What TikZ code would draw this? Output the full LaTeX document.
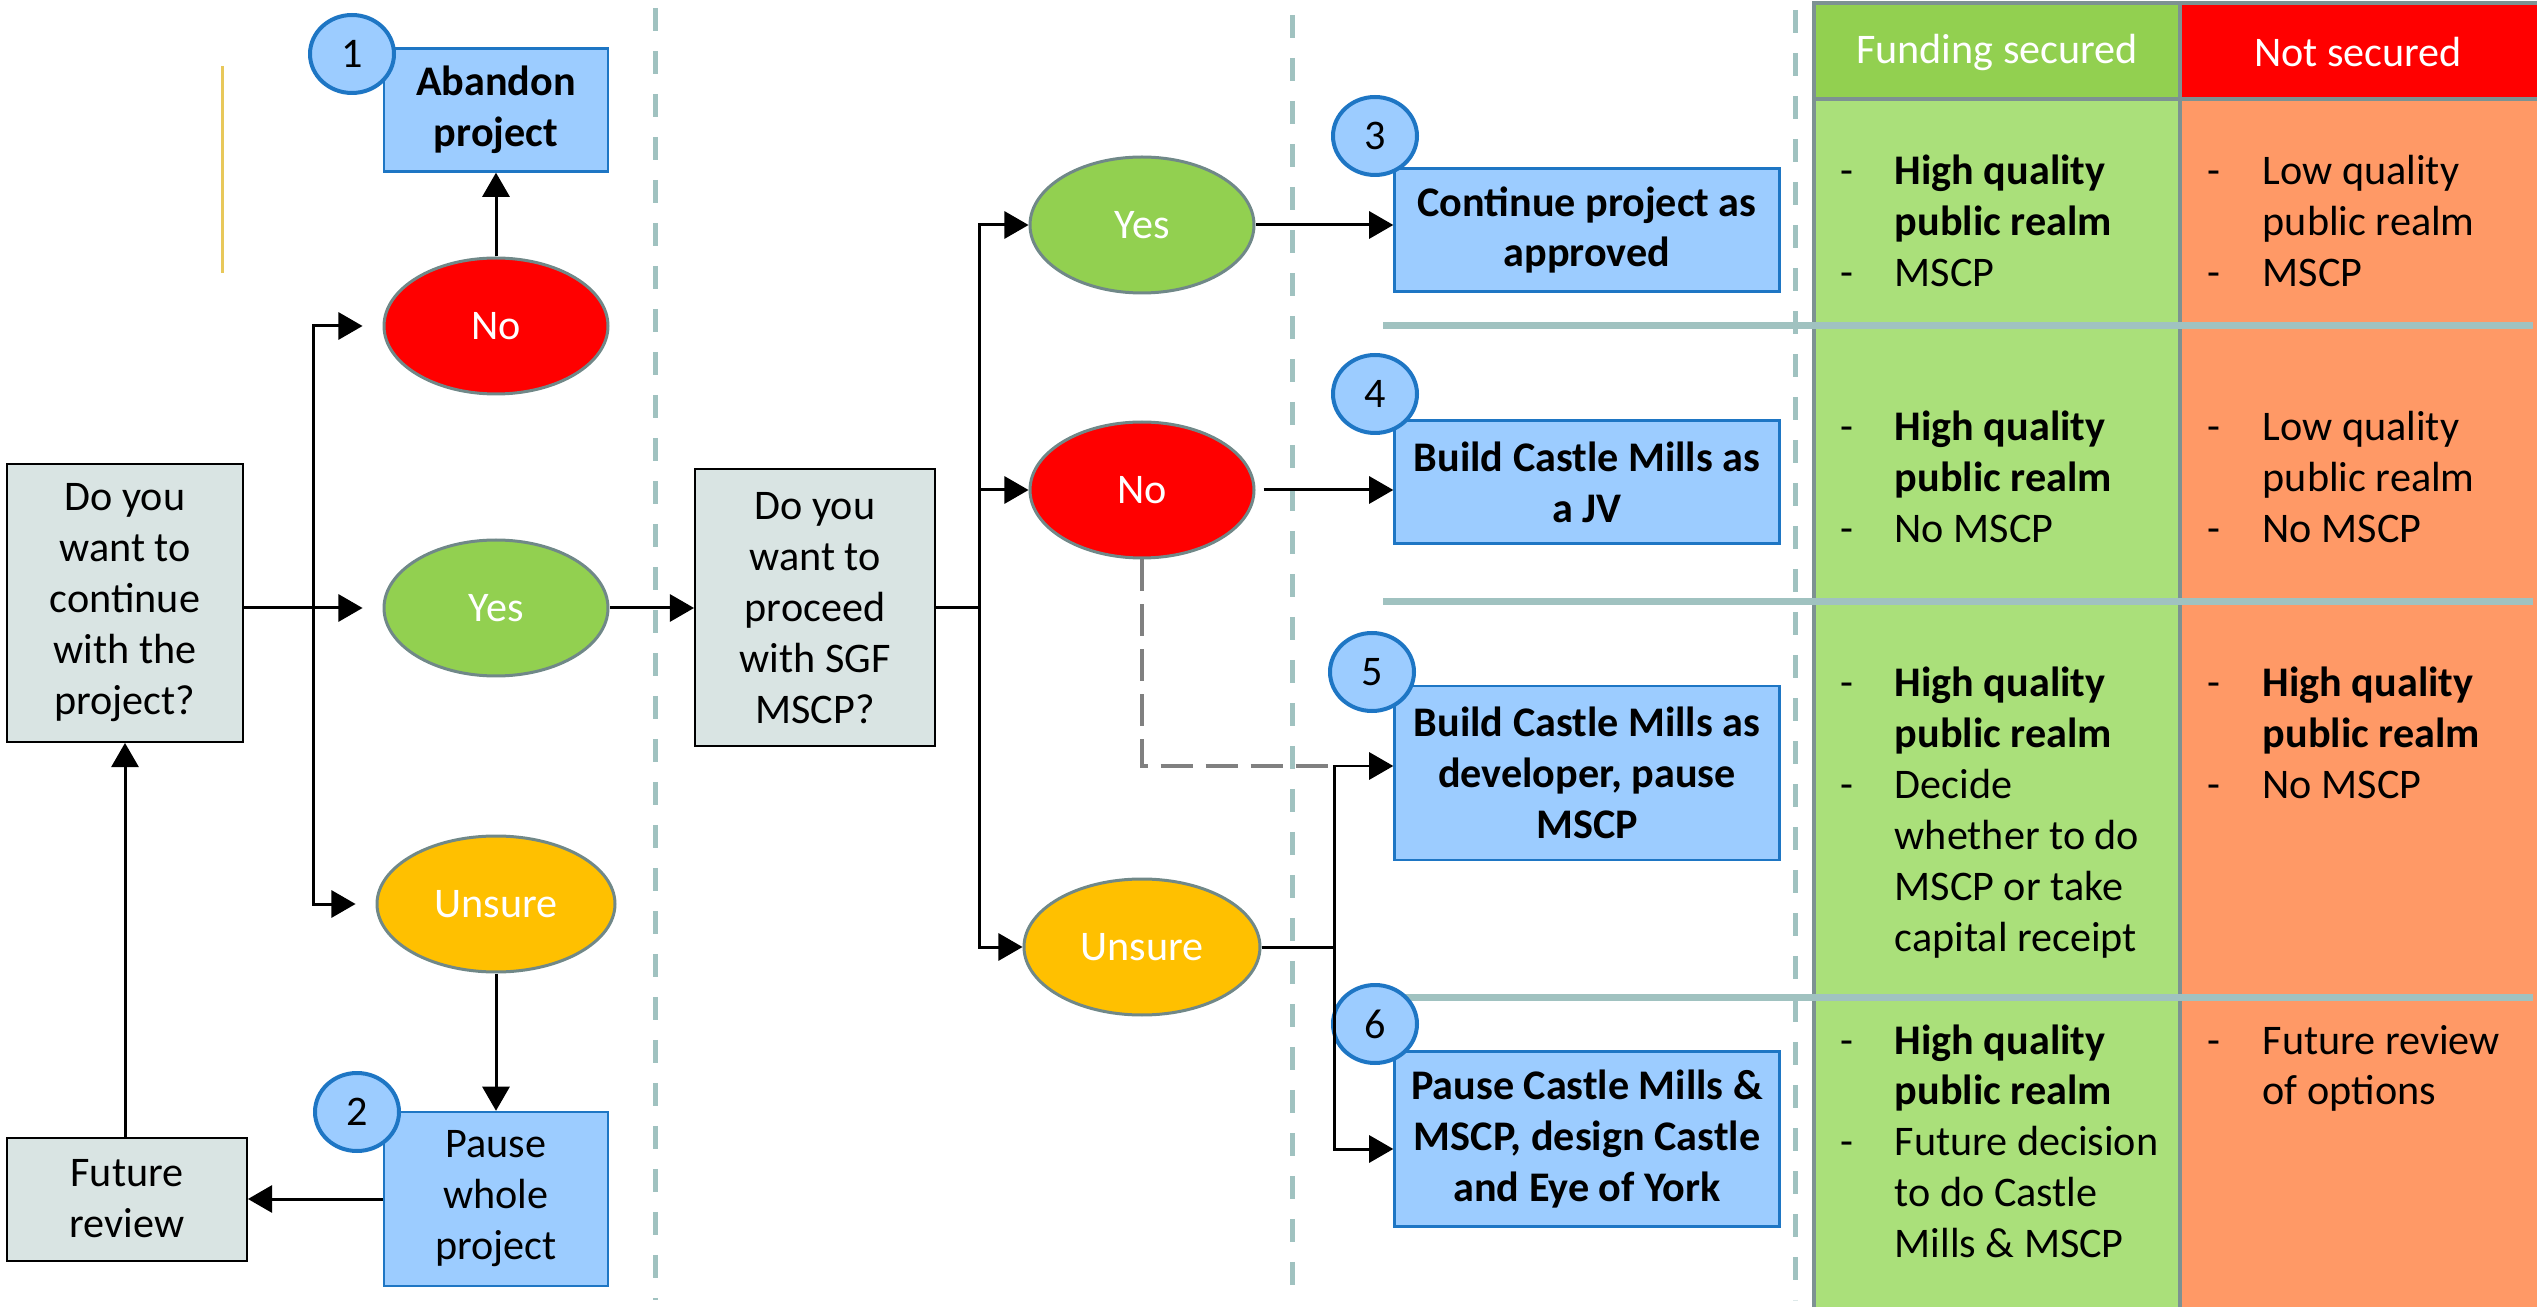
\documentclass[tikz,border=0pt]{standalone}
\usepackage{fontspec}
\setmainfont{Carlito}
\usetikzlibrary{arrows, calc, shapes.geometric}

\definecolor{qgrey}{RGB}{217,228,227}
\definecolor{optblue}{RGB}{156,204,255}
\definecolor{optedge}{RGB}{30,118,196}
\definecolor{ovedge}{RGB}{112,136,136}
\definecolor{yesgreen}{RGB}{146,208,80}
\definecolor{nored}{RGB}{255,0,0}
\definecolor{unsorange}{RGB}{255,192,0}
\definecolor{divline}{RGB}{160,194,192}
\definecolor{cellgreen}{RGB}{170,224,122}
\definecolor{cellorange}{RGB}{255,153,102}
\definecolor{gridgrey}{RGB}{125,146,146}
\definecolor{markyellow}{RGB}{232,200,90}

\begin{document}
\begin{tikzpicture}[x=0.1mm, y=-0.1mm,
	font=\fontsize{12}{14.5}\selectfont,
	question/.style={draw, line width=0.2mm, fill=qgrey, align=center, inner sep=0pt},
	option/.style={draw=optedge, line width=0.25mm, fill=optblue, align=center, inner sep=0pt,
		minimum width=38.5mm, font=\fontsize{12}{14.5}\selectfont\bfseries},
	numbered/.style={ellipse, draw=optedge, line width=0.4mm, fill=optblue, inner sep=0pt,
		minimum width=8.4mm, minimum height=7.8mm},
	answer/.style={ellipse, draw=ovedge, line width=0.3mm, text=white, inner sep=0pt,
		minimum width=22.4mm, minimum height=13.6mm},
	arrow/.style={-triangle 60, line width=0.3mm},
	link/.style={line width=0.3mm},
	linkdash/.style={draw=gray, line width=0.4mm, dash pattern=on 3.2mm off 1.3mm},
	divider/.style={divline, line width=0.5mm, dash pattern=on 2.3mm off 2mm},
	separator/.style={divline, line width=0.7mm},
	cell/.style={anchor=base west, inner sep=0pt}]
	\useasboundingbox (0,0) rectangle (2537,1307);

	% outcome table
	\fill [cellgreen] (1814,99) rectangle (2180,1307);
	\fill [cellorange] (2180,99) rectangle (2537,1307);
	\fill [yesgreen] (1814,3) rectangle (2180,99);
	\fill [nored] (2180,3) rectangle (2537,99);
	\draw [gridgrey, line width=0.4mm] (2537,3) -- (1814,3) -- (1814,1307);
	\draw [gridgrey, line width=0.4mm] (1814,99) -- (2537,99);
	\draw [gridgrey, line width=0.4mm] (2180,3) -- (2180,1307);
	\node [text=white] (fundhead) at (1997,52) {Funding secured};
	\node [text=white] (nothead) at (2358,52) {Not secured};

	% stage dividers
	\draw [divider] (655,8) -- (655,1300);
	\draw [divider] (1292,15) -- (1292,1292);
	\draw [divider] (1795,10) -- (1795,1300);
	\foreach \y in {326, 602, 997}
		\draw [separator] (1383,\y) -- (2533,\y);
	\draw [markyellow, line width=0.3mm] (222,66) -- (222,273);

	% first decision
	\node [question, minimum width=23.6mm, minimum height=27.8mm] (q1) at (125,603) {Do you\\want to\\continue\\with the\\project?};
	\node [question, minimum width=24mm, minimum height=12.3mm] (fut) at (127,1199) {Future\\review};
	\node [answer, fill=nored] (no1) at (496,326) {No};
	\node [answer, fill=yesgreen] (yes1) at (496,608) {Yes};
	\node [answer, fill=unsorange, minimum width=23.8mm] (uns1) at (496,904) {Unsure};
	\node [option, minimum width=22.4mm, minimum height=12.3mm] (abandon) at (496,110) {Abandon\\project};
	\node [option, minimum width=22.4mm, minimum height=17.4mm, font=\fontsize{12}{14.5}\selectfont] (pause) at (496,1199) {Pause\\whole\\project};
	\node [numbered] (n1) at (352,54) {1};
	\node [numbered] (n2) at (357,1112) {2};

	\coordinate (br1) at (313,608);
	\draw [arrow, shorten >=2mm] (q1.east |- yes1) -- (yes1.west);
	\draw [arrow, shorten >=2mm] (br1) |- (no1.west);
	\draw [arrow, shorten >=2mm] (br1) |- (uns1.west);
	\draw [arrow] (no1.north) -- (abandon.south);
	\draw [arrow] (uns1.south) -- (pause.north);
	\draw [arrow] (pause.west) -- (fut.east |- pause.west);
	\draw [arrow] (q1.south |- fut.north) -- (q1.south);

	% second decision
	\node [question, minimum width=24mm, minimum height=27.7mm] (q2) at (815,608) {Do you\\want to\\proceed\\with SGF\\MSCP?};
	\node [answer, fill=yesgreen] (yes2) at (1142,225) {Yes};
	\node [answer, fill=nored] (no2) at (1142,490) {No};
	\node [answer, fill=unsorange, minimum width=23.6mm] (uns2) at (1142,947) {Unsure};
	\draw [arrow] (yes1.east) -- (q2.west |- yes1);

	\coordinate (br2) at (979,608);
	\draw [link] (q2.east |- br2) -- (br2);
	\draw [arrow] (br2) |- (yes2.west);
	\draw [arrow] (br2) |- (no2.west);
	\draw [arrow] (br2) |- (uns2.west);

	% options
	\node [option, minimum height=12.3mm] (opt3) at (1587,230) {Continue project as\\approved};
	\node [option, minimum height=12.3mm] (opt4) at (1587,482) {Build Castle Mills as\\a JV};
	\node [option, minimum height=17.4mm] (opt5) at (1587,773) {Build Castle Mills as\\developer, pause\\MSCP};
	\node [option, minimum height=17.5mm] (opt6) at (1587,1139) {Pause Castle Mills \&\\MSCP, design Castle\\and Eye of York};
	\node [numbered] (n3) at (1375,136) {3};
	\node [numbered] (n4) at (1375,394) {4};
	\node [numbered] (n5) at (1372,672) {5};
	\node [numbered] (n6) at (1375,1024) {6};

	\coordinate (j2) at (1334,947);
	\coordinate (in5) at ($(opt5.west)+(0,-7)$);
	\coordinate (in6) at ($(opt6.west)+(0,10)$);
	\draw [arrow] (yes2.east) -- (opt3.west |- yes2);
	\draw [arrow, shorten <=0.8mm] (no2.east) -- (opt4.west |- no2);
	\draw [linkdash] (no2.south) |- (j2 |- in5);
	\draw [link] (uns2.east) -- (j2);
	\draw [arrow] (j2) |- (in5);
	\draw [arrow] (j2) |- (in6);

	% table cells
	\node [cell] (f1) at (1840,185) {\begin{tabular}[t]{@{}p{5.4mm}@{}l@{}}-&\textbf{High quality}\\&\textbf{public realm}\\-&MSCP\end{tabular}};
	\node [cell] (f2) at (1840,441) {\begin{tabular}[t]{@{}p{5.4mm}@{}l@{}}-&\textbf{High quality}\\&\textbf{public realm}\\-&No MSCP\end{tabular}};
	\node [cell] (f3) at (1840,697) {\begin{tabular}[t]{@{}p{5.4mm}@{}l@{}}-&\textbf{High quality}\\&\textbf{public realm}\\-&Decide\\&whether to do\\&MSCP or take\\&capital receipt\end{tabular}};
	\node [cell] (f4) at (1840,1054) {\begin{tabular}[t]{@{}p{5.4mm}@{}l@{}}-&\textbf{High quality}\\&\textbf{public realm}\\-&Future decision\\&to do Castle\\&Mills \& MSCP\end{tabular}};
	\node [cell] (s1) at (2207,185) {\begin{tabular}[t]{@{}p{5.5mm}@{}l@{}}-&Low quality\\&public realm\\-&MSCP\end{tabular}};
	\node [cell] (s2) at (2207,441) {\begin{tabular}[t]{@{}p{5.5mm}@{}l@{}}-&Low quality\\&public realm\\-&No MSCP\end{tabular}};
	\node [cell] (s3) at (2207,697) {\begin{tabular}[t]{@{}p{5.5mm}@{}l@{}}-&\textbf{High quality}\\&\textbf{public realm}\\-&No MSCP\end{tabular}};
	\node [cell] (s4) at (2207,1054) {\begin{tabular}[t]{@{}p{5.5mm}@{}l@{}}-&Future review\\&of options\end{tabular}};
\end{tikzpicture}
\end{document}
